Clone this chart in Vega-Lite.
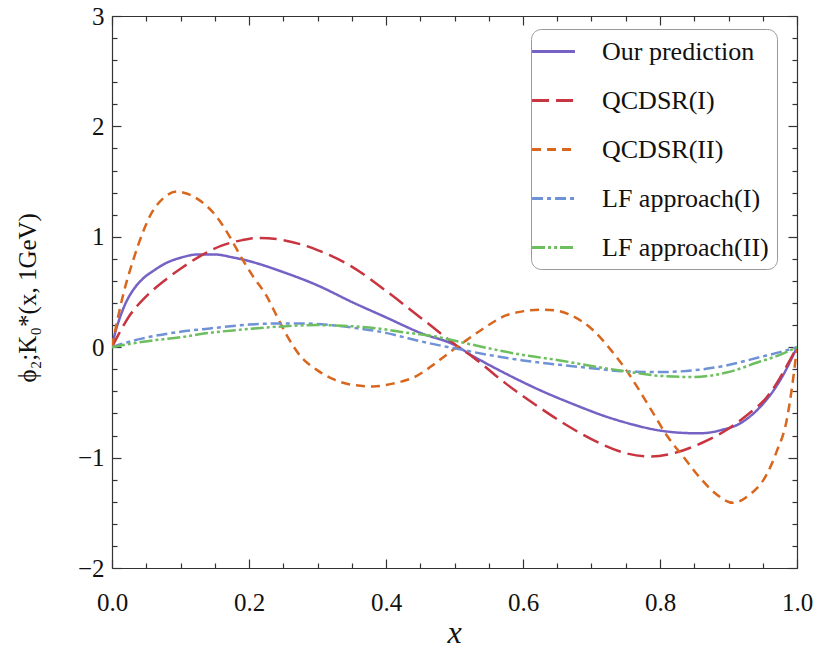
{
  "$schema": "https://vega.github.io/schema/vega-lite/v6.json",
  "autosize": {"type": "none"},
  "width": 685,
  "height": 552,
  "padding": {"left": 112, "top": 16, "right": 20, "bottom": 80},
  "background": "white",
  "config": {
    "font": "Liberation Serif",
    "view": {"stroke": null},
    "axis": {"grid": false, "labelFlush": false, "domainColor": "#333", "tickColor": "#333", "domainWidth": 1.2, "tickWidth": 1.2, "labelFont": "Liberation Serif", "labelFontSize": 25, "labelColor": "#111", "titleFont": "Liberation Serif", "titleColor": "#111"}
  },
  "datasets": {
    "curves": [
      {"series": "Our prediction", "x": 0, "y": 0},
      {"series": "Our prediction", "x": 0.005, "y": 0.14},
      {"series": "Our prediction", "x": 0.01, "y": 0.24},
      {"series": "Our prediction", "x": 0.02, "y": 0.4},
      {"series": "Our prediction", "x": 0.03, "y": 0.51},
      {"series": "Our prediction", "x": 0.045, "y": 0.62},
      {"series": "Our prediction", "x": 0.06, "y": 0.69},
      {"series": "Our prediction", "x": 0.08, "y": 0.765},
      {"series": "Our prediction", "x": 0.1, "y": 0.81},
      {"series": "Our prediction", "x": 0.125, "y": 0.84},
      {"series": "Our prediction", "x": 0.15, "y": 0.84},
      {"series": "Our prediction", "x": 0.175, "y": 0.815},
      {"series": "Our prediction", "x": 0.2, "y": 0.78},
      {"series": "Our prediction", "x": 0.25, "y": 0.68},
      {"series": "Our prediction", "x": 0.3, "y": 0.56},
      {"series": "Our prediction", "x": 0.35, "y": 0.41},
      {"series": "Our prediction", "x": 0.4, "y": 0.27},
      {"series": "Our prediction", "x": 0.45, "y": 0.13},
      {"series": "Our prediction", "x": 0.5, "y": 0.02},
      {"series": "Our prediction", "x": 0.527, "y": -0.08},
      {"series": "Our prediction", "x": 0.575, "y": -0.24},
      {"series": "Our prediction", "x": 0.625, "y": -0.39},
      {"series": "Our prediction", "x": 0.675, "y": -0.52},
      {"series": "Our prediction", "x": 0.722, "y": -0.63},
      {"series": "Our prediction", "x": 0.76, "y": -0.7},
      {"series": "Our prediction", "x": 0.795, "y": -0.75},
      {"series": "Our prediction", "x": 0.83, "y": -0.775},
      {"series": "Our prediction", "x": 0.858, "y": -0.78},
      {"series": "Our prediction", "x": 0.89, "y": -0.75},
      {"series": "Our prediction", "x": 0.917, "y": -0.69},
      {"series": "Our prediction", "x": 0.94, "y": -0.58},
      {"series": "Our prediction", "x": 0.966, "y": -0.39},
      {"series": "Our prediction", "x": 0.98, "y": -0.25},
      {"series": "Our prediction", "x": 0.99, "y": -0.13},
      {"series": "Our prediction", "x": 1, "y": 0},

      {"series": "QCDSR(I)", "x": 0, "y": 0},
      {"series": "QCDSR(I)", "x": 0.01, "y": 0.12},
      {"series": "QCDSR(I)", "x": 0.025, "y": 0.28},
      {"series": "QCDSR(I)", "x": 0.05, "y": 0.46},
      {"series": "QCDSR(I)", "x": 0.08, "y": 0.62},
      {"series": "QCDSR(I)", "x": 0.1, "y": 0.71},
      {"series": "QCDSR(I)", "x": 0.13, "y": 0.83},
      {"series": "QCDSR(I)", "x": 0.16, "y": 0.92},
      {"series": "QCDSR(I)", "x": 0.19, "y": 0.97},
      {"series": "QCDSR(I)", "x": 0.215, "y": 0.99},
      {"series": "QCDSR(I)", "x": 0.25, "y": 0.97},
      {"series": "QCDSR(I)", "x": 0.3, "y": 0.88},
      {"series": "QCDSR(I)", "x": 0.35, "y": 0.73},
      {"series": "QCDSR(I)", "x": 0.4, "y": 0.51},
      {"series": "QCDSR(I)", "x": 0.45, "y": 0.27},
      {"series": "QCDSR(I)", "x": 0.5, "y": 0.03},
      {"series": "QCDSR(I)", "x": 0.527, "y": -0.09},
      {"series": "QCDSR(I)", "x": 0.575, "y": -0.33},
      {"series": "QCDSR(I)", "x": 0.625, "y": -0.55},
      {"series": "QCDSR(I)", "x": 0.67, "y": -0.73},
      {"series": "QCDSR(I)", "x": 0.712, "y": -0.87},
      {"series": "QCDSR(I)", "x": 0.75, "y": -0.96},
      {"series": "QCDSR(I)", "x": 0.785, "y": -0.99},
      {"series": "QCDSR(I)", "x": 0.82, "y": -0.96},
      {"series": "QCDSR(I)", "x": 0.86, "y": -0.87},
      {"series": "QCDSR(I)", "x": 0.897, "y": -0.75},
      {"series": "QCDSR(I)", "x": 0.93, "y": -0.6},
      {"series": "QCDSR(I)", "x": 0.955, "y": -0.46},
      {"series": "QCDSR(I)", "x": 0.97, "y": -0.33},
      {"series": "QCDSR(I)", "x": 0.985, "y": -0.17},
      {"series": "QCDSR(I)", "x": 1, "y": 0},

      {"series": "QCDSR(II)", "x": 0, "y": 0},
      {"series": "QCDSR(II)", "x": 0.008, "y": 0.25},
      {"series": "QCDSR(II)", "x": 0.0165, "y": 0.48},
      {"series": "QCDSR(II)", "x": 0.031, "y": 0.79},
      {"series": "QCDSR(II)", "x": 0.045, "y": 1.04},
      {"series": "QCDSR(II)", "x": 0.0555, "y": 1.19},
      {"series": "QCDSR(II)", "x": 0.075, "y": 1.35},
      {"series": "QCDSR(II)", "x": 0.095, "y": 1.41},
      {"series": "QCDSR(II)", "x": 0.11, "y": 1.39},
      {"series": "QCDSR(II)", "x": 0.128, "y": 1.33},
      {"series": "QCDSR(II)", "x": 0.153, "y": 1.18},
      {"series": "QCDSR(II)", "x": 0.172, "y": 1.0},
      {"series": "QCDSR(II)", "x": 0.19, "y": 0.8},
      {"series": "QCDSR(II)", "x": 0.205, "y": 0.65},
      {"series": "QCDSR(II)", "x": 0.226, "y": 0.46},
      {"series": "QCDSR(II)", "x": 0.24, "y": 0.29},
      {"series": "QCDSR(II)", "x": 0.255, "y": 0.11},
      {"series": "QCDSR(II)", "x": 0.275, "y": -0.08},
      {"series": "QCDSR(II)", "x": 0.3, "y": -0.21},
      {"series": "QCDSR(II)", "x": 0.323, "y": -0.29},
      {"series": "QCDSR(II)", "x": 0.35, "y": -0.34},
      {"series": "QCDSR(II)", "x": 0.381, "y": -0.355},
      {"series": "QCDSR(II)", "x": 0.41, "y": -0.33},
      {"series": "QCDSR(II)", "x": 0.445, "y": -0.26},
      {"series": "QCDSR(II)", "x": 0.469, "y": -0.16},
      {"series": "QCDSR(II)", "x": 0.49, "y": -0.06},
      {"series": "QCDSR(II)", "x": 0.51, "y": 0.03},
      {"series": "QCDSR(II)", "x": 0.54, "y": 0.16},
      {"series": "QCDSR(II)", "x": 0.576, "y": 0.29},
      {"series": "QCDSR(II)", "x": 0.6, "y": 0.325},
      {"series": "QCDSR(II)", "x": 0.625, "y": 0.34},
      {"series": "QCDSR(II)", "x": 0.645, "y": 0.335},
      {"series": "QCDSR(II)", "x": 0.67, "y": 0.29},
      {"series": "QCDSR(II)", "x": 0.703, "y": 0.15},
      {"series": "QCDSR(II)", "x": 0.727, "y": -0.015},
      {"series": "QCDSR(II)", "x": 0.751, "y": -0.21},
      {"series": "QCDSR(II)", "x": 0.785, "y": -0.545},
      {"series": "QCDSR(II)", "x": 0.81, "y": -0.8},
      {"series": "QCDSR(II)", "x": 0.835, "y": -1.0},
      {"series": "QCDSR(II)", "x": 0.858, "y": -1.18},
      {"series": "QCDSR(II)", "x": 0.88, "y": -1.32},
      {"series": "QCDSR(II)", "x": 0.907, "y": -1.41},
      {"series": "QCDSR(II)", "x": 0.93, "y": -1.34},
      {"series": "QCDSR(II)", "x": 0.956, "y": -1.15},
      {"series": "QCDSR(II)", "x": 0.97, "y": -0.95},
      {"series": "QCDSR(II)", "x": 0.985, "y": -0.66},
      {"series": "QCDSR(II)", "x": 0.993, "y": -0.35},
      {"series": "QCDSR(II)", "x": 1, "y": 0},

      {"series": "LF approach(I)", "x": 0, "y": 0},
      {"series": "LF approach(I)", "x": 0.02, "y": 0.04},
      {"series": "LF approach(I)", "x": 0.045, "y": 0.08},
      {"series": "LF approach(I)", "x": 0.1, "y": 0.14},
      {"series": "LF approach(I)", "x": 0.143, "y": 0.17},
      {"series": "LF approach(I)", "x": 0.2, "y": 0.205},
      {"series": "LF approach(I)", "x": 0.24, "y": 0.215},
      {"series": "LF approach(I)", "x": 0.28, "y": 0.215},
      {"series": "LF approach(I)", "x": 0.32, "y": 0.2},
      {"series": "LF approach(I)", "x": 0.36, "y": 0.17},
      {"series": "LF approach(I)", "x": 0.4, "y": 0.13},
      {"series": "LF approach(I)", "x": 0.42, "y": 0.1},
      {"series": "LF approach(I)", "x": 0.46, "y": 0.04},
      {"series": "LF approach(I)", "x": 0.5, "y": -0.01},
      {"series": "LF approach(I)", "x": 0.55, "y": -0.07},
      {"series": "LF approach(I)", "x": 0.6, "y": -0.12},
      {"series": "LF approach(I)", "x": 0.654, "y": -0.16},
      {"series": "LF approach(I)", "x": 0.7, "y": -0.19},
      {"series": "LF approach(I)", "x": 0.751, "y": -0.22},
      {"series": "LF approach(I)", "x": 0.8, "y": -0.225},
      {"series": "LF approach(I)", "x": 0.848, "y": -0.21},
      {"series": "LF approach(I)", "x": 0.897, "y": -0.165},
      {"series": "LF approach(I)", "x": 0.946, "y": -0.09},
      {"series": "LF approach(I)", "x": 0.975, "y": -0.045},
      {"series": "LF approach(I)", "x": 1, "y": 0},

      {"series": "LF approach(II)", "x": 0, "y": 0},
      {"series": "LF approach(II)", "x": 0.045, "y": 0.05},
      {"series": "LF approach(II)", "x": 0.1, "y": 0.09},
      {"series": "LF approach(II)", "x": 0.143, "y": 0.13},
      {"series": "LF approach(II)", "x": 0.2, "y": 0.165},
      {"series": "LF approach(II)", "x": 0.24, "y": 0.185},
      {"series": "LF approach(II)", "x": 0.3, "y": 0.2},
      {"series": "LF approach(II)", "x": 0.35, "y": 0.19},
      {"series": "LF approach(II)", "x": 0.4, "y": 0.16},
      {"series": "LF approach(II)", "x": 0.42, "y": 0.14},
      {"series": "LF approach(II)", "x": 0.469, "y": 0.1},
      {"series": "LF approach(II)", "x": 0.51, "y": 0.045},
      {"series": "LF approach(II)", "x": 0.55, "y": -0.01},
      {"series": "LF approach(II)", "x": 0.6, "y": -0.07},
      {"series": "LF approach(II)", "x": 0.654, "y": -0.12},
      {"series": "LF approach(II)", "x": 0.7, "y": -0.17},
      {"series": "LF approach(II)", "x": 0.751, "y": -0.22},
      {"series": "LF approach(II)", "x": 0.8, "y": -0.26},
      {"series": "LF approach(II)", "x": 0.848, "y": -0.27},
      {"series": "LF approach(II)", "x": 0.897, "y": -0.23},
      {"series": "LF approach(II)", "x": 0.946, "y": -0.13},
      {"series": "LF approach(II)", "x": 0.975, "y": -0.07},
      {"series": "LF approach(II)", "x": 1, "y": 0}
    ]
  },
  "data": {"name": "curves"},
  "resolve": {"axis": {"x": "independent", "y": "independent"}},
  "layer": [
    {
      "mark": {"type": "line", "strokeWidth": 2.5, "interpolate": "monotone", "clip": true},
      "encoding": {
        "x": {"field": "x", "type": "quantitative", "scale": {"domain": [0, 1], "nice": false},
          "axis": {"orient": "bottom", "values": [0, 0.2, 0.4, 0.6, 0.8, 1], "format": ".1f", "tickSize": -9, "labelPadding": 31, "title": "x", "titleFontStyle": "italic", "titleFontWeight": "normal", "titleFontSize": 32, "titleX": 342, "titleY": 64, "titleBaseline": "middle"}},
        "y": {"field": "y", "type": "quantitative", "scale": {"domain": [-2, 3], "nice": false},
          "axis": {"orient": "left", "values": [-2, -1, 0, 1, 2, 3], "format": "d", "tickSize": -9, "labelPadding": 17, "title": "ϕ₂;K₀*(x, 1GeV)", "titleFontWeight": "normal", "titleFontSize": 25, "titleX": -85, "titleY": 366, "titleAngle": -90, "titleAlign": "left", "titleBaseline": "middle"}},
        "color": {"field": "series", "type": "nominal", "title": null,
          "scale": {"domain": ["Our prediction", "QCDSR(I)", "QCDSR(II)", "LF approach(I)", "LF approach(II)"], "range": ["#7562c4", "#c8343f", "#d8661c", "#6f92d6", "#6dbe5e"]},
          "legend": {"orient": "none", "legendX": 419, "legendY": 13, "symbolType": "M-1.65,0H1.65", "symbolSize": 676, "symbolStrokeWidth": 3, "labelFont": "Liberation Serif", "labelFontSize": 26, "labelColor": "#111", "labelOffset": 34, "rowPadding": 21, "padding": 8, "fillColor": "white", "strokeColor": "#999", "cornerRadius": 10, "labelLimit": 400}},
        "strokeDash": {"field": "series", "type": "nominal", "title": null,
          "scale": {"domain": ["Our prediction", "QCDSR(I)", "QCDSR(II)", "LF approach(I)", "LF approach(II)"], "range": [[1, 0], [17, 7], [9, 6], [11, 4, 4, 4], [13, 3, 3, 3, 3, 3]]}}
      }
    },
    {
      "mark": {"type": "line", "opacity": 0},
      "encoding": {
        "x": {"field": "x", "type": "quantitative", "axis": {"orient": "bottom", "values": [0.05, 0.1, 0.15, 0.25, 0.3, 0.35, 0.45, 0.5, 0.55, 0.65, 0.7, 0.75, 0.85, 0.9, 0.95], "labels": false, "domain": false, "tickSize": -5, "title": null}},
        "y": {"field": "y", "type": "quantitative", "axis": {"orient": "left", "values": [-1.8, -1.6, -1.4, -1.2, -0.8, -0.6, -0.4, -0.2, 0.2, 0.4, 0.6, 0.8, 1.2, 1.4, 1.6, 1.8, 2.2, 2.4, 2.6, 2.8], "labels": false, "domain": false, "tickSize": -5, "title": null}}
      }
    },
    {
      "mark": {"type": "line", "opacity": 0},
      "encoding": {
        "x": {"field": "x", "type": "quantitative", "axis": {"orient": "top", "values": [0, 0.2, 0.4, 0.6, 0.8, 1], "labels": false, "tickSize": -9, "title": null}},
        "y": {"field": "y", "type": "quantitative", "axis": {"orient": "right", "values": [-2, -1, 0, 1, 2, 3], "labels": false, "tickSize": -9, "title": null}}
      }
    },
    {
      "mark": {"type": "line", "opacity": 0},
      "encoding": {
        "x": {"field": "x", "type": "quantitative", "axis": {"orient": "top", "values": [0.05, 0.1, 0.15, 0.25, 0.3, 0.35, 0.45, 0.5, 0.55, 0.65, 0.7, 0.75, 0.85, 0.9, 0.95], "labels": false, "domain": false, "tickSize": -5, "title": null}},
        "y": {"field": "y", "type": "quantitative", "axis": {"orient": "right", "values": [-1.8, -1.6, -1.4, -1.2, -0.8, -0.6, -0.4, -0.2, 0.2, 0.4, 0.6, 0.8, 1.2, 1.4, 1.6, 1.8, 2.2, 2.4, 2.6, 2.8], "labels": false, "domain": false, "tickSize": -5, "title": null}}
      }
    }
  ]
}
